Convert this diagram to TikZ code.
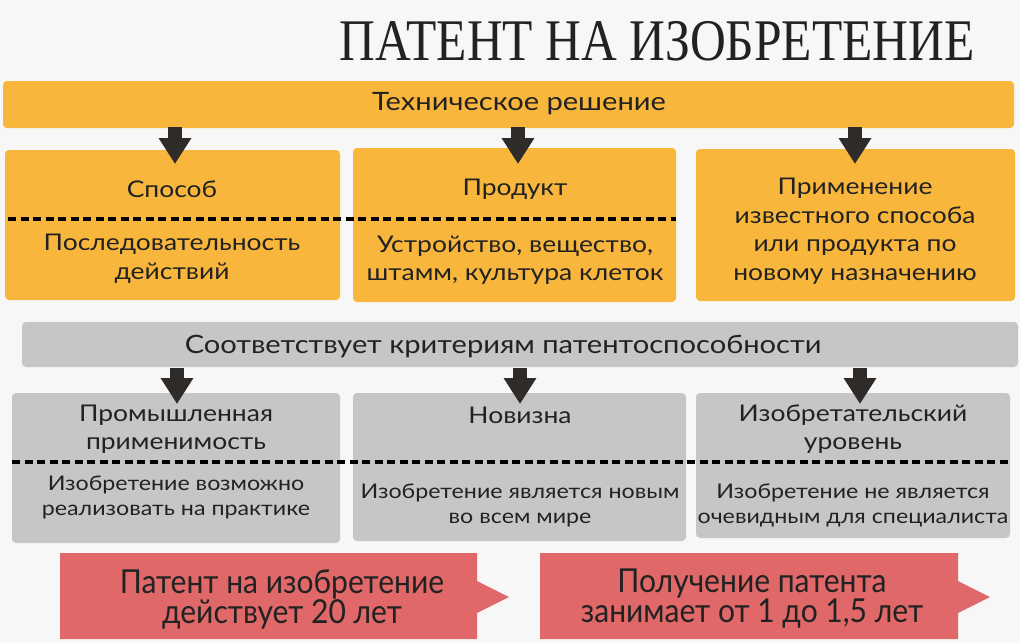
\documentclass[tikz,border=0pt]{standalone}
\usepackage{fontspec}
\usepackage{graphicx}
\usetikzlibrary{arrows.meta,fit}
\setmainfont{Lato}[FakeStretch=1.15]
\newfontfamily\titlefont{Liberation Serif}[FakeStretch=0.84]
\newfontfamily\redfont{Lato}[FakeStretch=0.91]
\definecolor{ylw}{HTML}{F8B73C}
\definecolor{gry}{HTML}{C6C6C6}
\definecolor{redb}{HTML}{E06868}
\definecolor{arr}{HTML}{2F2B29}
\definecolor{txt}{HTML}{222222}
\definecolor{bg}{HTML}{F7F7F7}
\begin{document}
\begin{tikzpicture}[x=1pt,y=-1pt,
 box/.style={rounded corners=4pt, inner sep=0pt, draw=none},
 ybox/.style={box, fill=ylw},
 gbox/.style={box, fill=gry},
 lbl/.style={text=txt, align=center, inner sep=0pt},
 big/.style={lbl, font=\fontsize{25.3}{29}\selectfont},
 mid/.style={lbl, font=\fontsize{23}{28.5}\selectfont},
 sml/.style={lbl, font=\fontsize{20.2}{25}\selectfont},
 redtxt/.style={lbl, font=\redfont\fontsize{33}{30}\selectfont},
 dashline/.style={draw=black, line width=3.2pt, dash pattern=on 8pt off 4.5pt},
 blockarrow/.style={draw=arr, line width=14pt, -{Triangle[width=31pt,length=26pt]}},
 redshape/.style={fill=redb, draw=none},
]
\fill[bg] (0,0) rectangle (1020,643);
\useasboundingbox (0,0) rectangle (1020,643);

% title
\node[text=txt, anchor=base, inner sep=0pt, font=\titlefont\fontsize{59}{60}\selectfont] (title) at (657,60) {ПАТЕНТ НА ИЗОБРЕТЕНИЕ};

% top bar
\node[ybox, fit={(3,81) (1014,128)}] (tb) {};
\node[big] (tbt) at (519,104) {Техническое решение};

% yellow boxes
\node[ybox, fit={(5,150) (340,300)}] (y1) {};
\node[ybox, fit={(353,148) (676,302)}] (y2) {};
\node[ybox, fit={(696,149) (1015,301)}] (y3) {};
\coordinate (d1s) at (8,219);
\coordinate (d1e) at (676,219);
\draw[dashline] (d1s) -- (d1e);

\node[mid] (y1a) at (172,189) {Способ};
\node[mid] (y1b) at (172,259) {Последовательность\\действий};
\node[mid] (y2a) at (515,189) {Продукт};
\node[mid] (y2b) at (515,260) {Устройство, вещество,\\штамм, культура клеток};
\node[mid] (y3a) at (855,231) {Применение\\известного способа\\или продукта по\\новому назначению};

% arrows row 1
\coordinate (a1s) at (175,127); \coordinate (a1e) at (175,164);
\coordinate (a2s) at (518,127); \coordinate (a2e) at (518,164);
\coordinate (a3s) at (855,127); \coordinate (a3e) at (855,164);
\draw[blockarrow] (a1s) -- (a1e);
\draw[blockarrow] (a2s) -- (a2e);
\draw[blockarrow] (a3s) -- (a3e);

% gray bar
\node[gbox, fit={(22,322) (1018,367)}] (gb) {};
\node[big] (gbt) at (503,346) {Соответствует критериям патентоспособности};

% gray boxes
\node[gbox, fit={(12,393) (340,543)}] (g1) {};
\node[gbox, fit={(353,393) (686,541)}] (g2) {};
\node[gbox, fit={(696,393) (1010,538)}] (g3) {};
\coordinate (d2s) at (12,462);
\coordinate (d2e) at (1008,462);
\draw[dashline] (d2s) -- (d2e);

\node[mid] (g1a) at (176,429) {Промышленная\\применимость};
\node[sml] (g1b) at (176,497) {Изобретение возможно\\реализовать на практике};
\node[mid] (g2a) at (520,415) {Новизна};
\node[sml] (g2b) at (520,505) {Изобретение является новым\\во всем мире};
\node[mid] (g3a) at (853,429) {Изобретательский\\уровень};
\node[sml] (g3b) at (853,505) {Изобретение не является\\очевидным для специалиста};

% arrows row 2
\coordinate (b1s) at (177,368); \coordinate (b1e) at (177,404);
\coordinate (b2s) at (520,368); \coordinate (b2e) at (520,404);
\coordinate (b3s) at (860,368); \coordinate (b3e) at (860,404);
\draw[blockarrow] (b1s) -- (b1e);
\draw[blockarrow] (b2s) -- (b2e);
\draw[blockarrow] (b3s) -- (b3e);

% red shapes
\fill[redshape] (60,553) -- (477,553) -- (477,581) -- (509,597) -- (477,613) -- (477,639) -- (60,639) -- cycle;
\fill[redshape] (540,553) -- (958,553) -- (958,581) -- (990,597) -- (958,613) -- (958,639) -- (540,639) -- cycle;
\node[redtxt] (r1) at (282,599) {Патент на изобретение\\действует 20 лет};
\node[redtxt] (r2) at (752,599) {Получение патента\\занимает от 1 до 1,5 лет};
\end{tikzpicture}
\end{document}
